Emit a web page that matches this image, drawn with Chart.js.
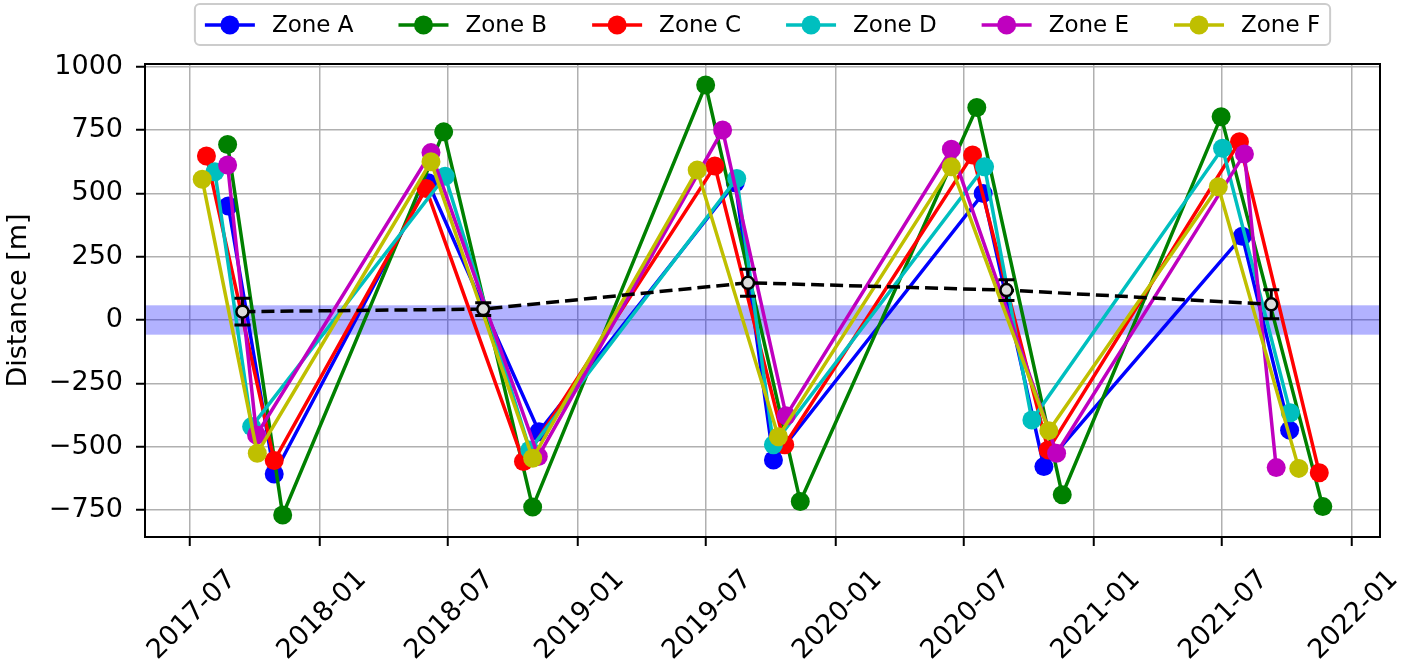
<!DOCTYPE html>
<html>
<head>
<meta charset="utf-8">
<script src="https://cdn.jsdelivr.net/npm/chart.js@4.4.0/dist/chart.umd.min.js"></script>
<style>
html, body { margin: 0; padding: 0; background: #fff; }
</style>
</head>
<body>
<canvas id="chart" width="1404" height="663"></canvas>
<script>
// values
const zoneNames = ["Zone A", "Zone B", "Zone C", "Zone D", "Zone E", "Zone F"];
const zoneColors = ["#0000ff", "#008000", "#ff0000", "#00bfbf", "#bf00bf", "#bfbf00"];

const datesA = ["2017-08-24", "2017-10-28", "2018-06-03", "2018-11-07", "2019-08-12", "2019-10-05", "2020-07-28", "2020-10-22", "2021-07-30", "2021-10-05"];
const distA = [450, -608, 542, -441, 542, -553, 500, -579, 331, -435];
const datesB = ["2017-08-23", "2017-11-09", "2018-06-25", "2018-10-29", "2019-07-01", "2019-11-12", "2020-07-19", "2020-11-17", "2021-06-30", "2021-11-21"];
const distB = [693, -770, 743, -739, 928, -717, 839, -690, 803, -737];
const datesC = ["2017-07-24", "2017-10-28", "2018-05-31", "2018-10-16", "2019-07-14", "2019-10-21", "2020-07-13", "2020-10-28", "2021-07-26", "2021-11-16"];
const distC = [648, -555, 519, -559, 608, -493, 652, -513, 704, -603];
const datesD = ["2017-08-05", "2017-09-26", "2018-06-27", "2018-10-25", "2019-08-14", "2019-10-05", "2020-07-30", "2020-10-05", "2021-07-02", "2021-10-06"];
const distD = [585, -421, 568, -513, 559, -493, 605, -395, 678, -366];
const datesE = ["2017-08-23", "2017-10-03", "2018-06-07", "2018-11-06", "2019-07-25", "2019-10-23", "2020-06-13", "2020-11-09", "2021-08-02", "2021-09-16"];
const distE = [612, -454, 661, -539, 750, -378, 674, -526, 656, -583];
const datesF = ["2017-07-18", "2017-10-04", "2018-06-07", "2018-10-29", "2019-06-19", "2019-10-12", "2020-06-13", "2020-10-29", "2021-06-26", "2021-10-18"];
const distF = [556, -526, 625, -546, 592, -461, 605, -437, 526, -586];

const meanDates = ["2017-09-13", "2018-08-20", "2019-08-30", "2020-08-30", "2021-09-09"];
const meanDist = [33, 43, 147, 118, 62];
const meanErr = [53, 25, 53, 41, 57];

const bandLow = -58;
const bandHigh = 58;

const tickDates = ["2017-07-01", "2018-01-01", "2018-07-01", "2019-01-01", "2019-07-01", "2020-01-01", "2020-07-01", "2021-01-01", "2021-07-01", "2022-01-01"];
const yTicks = [-750, -500, -250, 0, 250, 500, 750, 1000];

const zoneDates = [datesA, datesB, datesC, datesD, datesE, datesF];
const zoneDist = [distA, distB, distC, distD, distE, distF];

const FONT = "DejaVu Sans";
const ms = (s) => Date.parse(s);
const pts = (dates, vals) => dates.map((d, i) => ({ x: ms(d), y: vals[i] }));

let datasets = zoneNames.map((name, i) => ({
    label: name,
    data: pts(zoneDates[i], zoneDist[i]),
    borderColor: zoneColors[i],
    backgroundColor: zoneColors[i],
    borderWidth: 3.5,
    pointRadius: 9.5,
    pointBorderWidth: 0,
    pointBackgroundColor: zoneColors[i],
    tension: 0,
    order: 6 - i,
}));
datasets.push({
    label: "mean",
    data: pts(meanDates, meanDist),
    borderColor: "#000",
    borderWidth: 3.5,
    borderDash: [13, 6],
    pointRadius: 6,
    pointBorderWidth: 2.5,
    pointBorderColor: "#000",
    pointBackgroundColor: "#dcdcdc",
    tension: 0,
    order: 0,
});
const meanIndex = datasets.length - 1;

const band = {
    id: "band",
    beforeDatasetsDraw(chart) {
        const { ctx, chartArea: a, scales: { y } } = chart;
        const top = y.getPixelForValue(bandHigh);
        const bot = y.getPixelForValue(bandLow);
        ctx.save();
        ctx.fillStyle = "rgba(0, 0, 255, 0.3)";
        ctx.fillRect(a.left, top, a.right - a.left, bot - top);
        ctx.restore();
    },
};

const errorBars = {
    id: "errorBars",
    beforeDatasetDraw(chart, args) {
        if (args.index !== meanIndex) return;
        const { ctx, scales: { x, y } } = chart;
        ctx.save();
        ctx.strokeStyle = "#000";
        ctx.lineWidth = 3;
        meanDates.forEach((d, i) => {
            const px = x.getPixelForValue(ms(d));
            const hi = y.getPixelForValue(meanDist[i] + meanErr[i]);
            const lo = y.getPixelForValue(meanDist[i] - meanErr[i]);
            ctx.beginPath();
            ctx.moveTo(px, hi);
            ctx.lineTo(px, lo);
            ctx.moveTo(px - 8, hi);
            ctx.lineTo(px + 8, hi);
            ctx.moveTo(px - 8, lo);
            ctx.lineTo(px + 8, lo);
            ctx.stroke();
        });
        ctx.restore();
    },
};

const frame = {
    id: "frame",
    afterDatasetsDraw(chart) {
        const { ctx, chartArea: a } = chart;
        ctx.save();
        ctx.strokeStyle = "#000";
        ctx.lineWidth = 2;
        ctx.strokeRect(a.left, a.top, a.right - a.left, a.bottom - a.top);
        ctx.restore();
    },
};

// matplotlib style legend: line with a marker, in a rounded box
const legendBox = {
    id: "legendBox",
    afterDraw(chart) {
        const { ctx, chartArea: a } = chart;
        ctx.save();
        ctx.font = "23px '" + FONT + "'";
        const lineLen = 50, gapText = 17, gapItem = 45, pad = 10, cy = 25;
        const widths = zoneNames.map((n) => ctx.measureText(n).width);
        let total = widths.reduce((s, w) => s + lineLen + gapText + w, 0) + gapItem * (zoneNames.length - 1);
        let x = (a.left + a.right) / 2 - total / 2;
        ctx.strokeStyle = "#cccccc";
        ctx.lineWidth = 2;
        ctx.fillStyle = "rgba(255,255,255,0.8)";
        ctx.beginPath();
        ctx.roundRect(x - pad, 4, total + 2 * pad, 41, 5);
        ctx.fill();
        ctx.stroke();
        zoneNames.forEach((n, i) => {
            ctx.strokeStyle = zoneColors[i];
            ctx.lineWidth = 3.5;
            ctx.beginPath();
            ctx.moveTo(x, cy);
            ctx.lineTo(x + lineLen, cy);
            ctx.stroke();
            ctx.fillStyle = zoneColors[i];
            ctx.beginPath();
            ctx.arc(x + lineLen / 2, cy, 9.5, 0, Math.PI * 2);
            ctx.fill();
            ctx.fillStyle = "#000";
            ctx.textBaseline = "middle";
            ctx.fillText(n, x + lineLen + gapText, cy + 1);
            x += lineLen + gapText + widths[i] + gapItem;
        });
        ctx.restore();
    },
};

const ctx = document.querySelector("#chart").getContext("2d");
const chart = new Chart(ctx, {
    type: "line",
    data: { datasets: datasets },
    options: {
        responsive: false,
        animation: false,
        layout: { padding: { top: 64, right: 24, left: 0, bottom: 0 } },
        scales: {
            x: {
                type: "linear",
                min: ms("2017-04-28"),
                max: ms("2022-02-10"),
                afterBuildTicks: (s) => { s.ticks = tickDates.map((d) => ({ value: ms(d) })); },
                afterFit: (s) => { s.height = 126; },
                grid: { color: "#b0b0b0", lineWidth: 1.5, tickLength: 9, tickColor: "#000", tickWidth: 2 },
                border: { display: false },
                ticks: {
                    autoSkip: false,
                    minRotation: 45,
                    maxRotation: 45,
                    labelOffset: 42,
                    padding: 18,
                    color: "#000",
                    font: { family: FONT, size: 27 },
                    callback: (v) => {
                        const d = new Date(v);
                        return d.getUTCFullYear() + "-" + String(d.getUTCMonth() + 1).padStart(2, "0");
                    },
                },
            },
            y: {
                min: -857,
                max: 1011,
                afterBuildTicks: (s) => { s.ticks = yTicks.map((v) => ({ value: v })); },
                afterFit: (s) => { s.width = 145; },
                grid: { color: "#b0b0b0", lineWidth: 1.5, tickLength: 9, tickColor: "#000", tickWidth: 2 },
                border: { display: false },
                ticks: {
                    padding: 13,
                    color: "#000",
                    font: { family: FONT, size: 27 },
                    callback: (v) => String(v).replace("-", "\u2212"),
                },
                title: {
                    display: true,
                    text: "Distance [m]",
                    color: "#000",
                    font: { family: FONT, size: 27 },
                    padding: { top: 3, bottom: 0 },
                },
            },
        },
        plugins: {
            legend: { display: false },
            tooltip: { enabled: false },
        },
    },
    plugins: [band, errorBars, frame, legendBox],
});
</script>
</body>
</html>
